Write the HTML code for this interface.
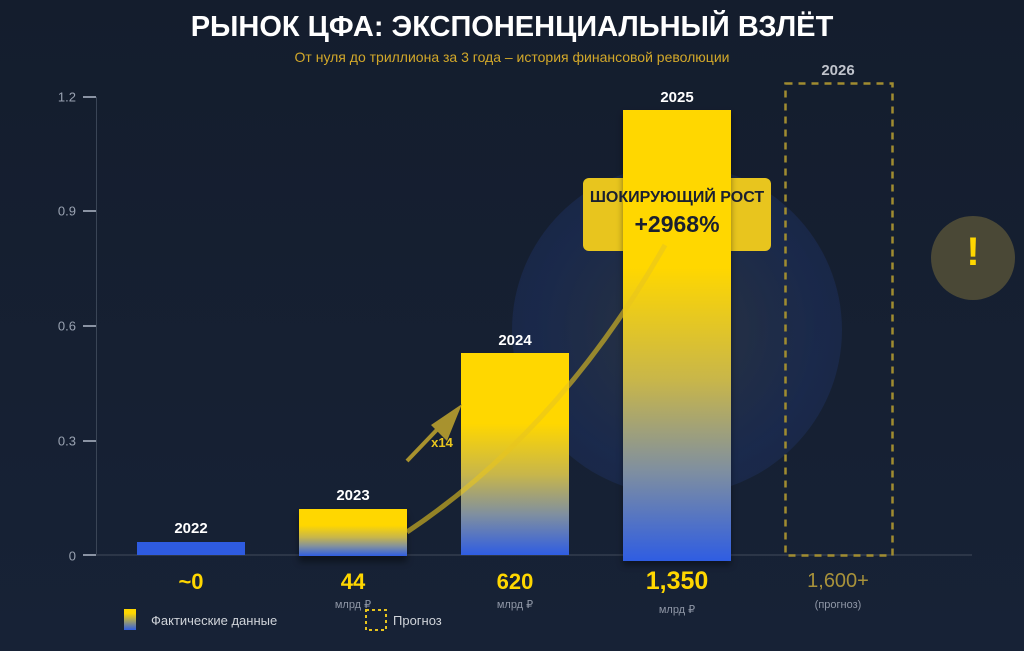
<!DOCTYPE html>
<html><head><meta charset="utf-8"><style>
body{margin:0;width:1024px;height:651px;overflow:hidden;background:linear-gradient(180deg,#141d2d,#172236);font-family:"Liberation Sans","DejaVu Sans",sans-serif;position:relative}
.a{position:absolute}
.t{position:absolute;white-space:nowrap;transform:translateX(-50%)}
.bar{position:absolute;background:linear-gradient(180deg,#ffd700 0%,#ffd700 35%,#c8b64a 60%,#7f8fa0 80%,#2f5de2 100%)}
.yl{position:absolute;right:948px;color:#9aa3b2;font-size:13px;transform:translateY(-50%)}
.tk{position:absolute;left:83px;width:13px;height:2px;background:#8a93a3}
.yr{color:#fff;font-weight:bold;font-size:15px}
.v{color:#ffd700;font-weight:bold;font-size:22px}
.u{color:#8f97a6;font-size:11px}
</style></head><body>
<div class="t" style="left:512px;top:11px;color:#fff;font-weight:bold;font-size:29px">РЫНОК ЦФА: ЭКСПОНЕНЦИАЛЬНЫЙ ВЗЛЁТ</div>
<div class="t" style="left:512px;top:49px;color:#d2a82a;font-size:14px">От нуля до триллиона за 3 года – история финансовой революции</div>
<div class="a" style="left:512px;top:165px;width:330px;height:330px;border-radius:50%;background:radial-gradient(circle,rgba(60,70,80,.5) 0%,rgba(30,50,100,.5) 60%,rgba(30,50,100,.25) 100%)"></div>
<div class="a" style="left:96px;top:97px;width:1px;height:458px;background:#3a4556"></div>
<div class="a" style="left:96px;top:554px;width:876px;height:2px;background:#2c3648"></div>
<div class="tk" style="top:96px"></div><div class="tk" style="top:210px"></div><div class="tk" style="top:325px"></div><div class="tk" style="top:440px"></div><div class="tk" style="top:554px"></div>
<div class="yl" style="top:97px">1.2</div><div class="yl" style="top:211px">0.9</div><div class="yl" style="top:326px">0.6</div><div class="yl" style="top:441px">0.3</div><div class="yl" style="top:556px">0</div>
<div class="a" style="left:137px;top:542px;width:108px;height:13px;background:#2e5be0"></div>
<div class="bar" style="left:299px;top:509px;width:108px;height:47px;box-shadow:0 6px 6px rgba(0,0,0,.4)"></div>
<div class="bar" style="left:461px;top:353px;width:108px;height:202px"></div>
<div class="a" style="left:583px;top:178px;width:188px;height:73px;border-radius:6px;background:#e8c51e"></div>
<div class="bar" style="left:623px;top:110px;width:108px;height:451px;box-shadow:0 4px 6px rgba(0,0,0,.4)"></div>
<svg class="a" style="left:0;top:0" width="1024" height="651">
<path d="M407,532 Q560,430 665,245" stroke="#e8c51e" stroke-opacity="0.6" stroke-width="5" fill="none"/>
<line x1="407" y1="461" x2="452" y2="414" stroke="#a8922e" stroke-width="4"/>
<polygon points="462,404 431,425 447,441" fill="#a8922e"/>
<rect x="785.5" y="83.5" width="107" height="472" fill="none" stroke="#a08c30" stroke-width="2.5" stroke-dasharray="7,6"/>
<circle cx="973" cy="258" r="42" fill="#4a4836"/>
<rect x="366" y="610" width="20" height="20" fill="none" stroke="#e8c51e" stroke-width="2" stroke-dasharray="3,3"/>
</svg>
<div class="t" style="left:973px;top:230px;color:#ffd700;font-weight:bold;font-size:40px">!</div>
<div class="t" style="left:442px;top:435px;color:#e8c51e;font-weight:bold;font-size:13px">x14</div>
<div class="t" style="left:677px;top:189px;color:#1a2030;font-weight:bold;font-size:16px">ШОКИРУЮЩИЙ РОСТ</div>
<div class="t" style="left:677px;top:211px;color:#1a2030;font-weight:bold;font-size:23px">+2968%</div>
<div class="t yr" style="left:191px;top:520px">2022</div>
<div class="t yr" style="left:353px;top:487px">2023</div>
<div class="t yr" style="left:515px;top:332px">2024</div>
<div class="t yr" style="left:677px;top:89px">2025</div>
<div class="t yr" style="left:838px;top:62px;color:#c0c4cc">2026</div>
<div class="t v" style="left:191px;top:569px">~0</div>
<div class="t v" style="left:353px;top:569px">44</div>
<div class="t v" style="left:515px;top:569px">620</div>
<div class="t v" style="left:677px;top:567px;font-size:25px">1,350</div>
<div class="t" style="left:838px;top:570px;color:#a8923a;font-size:20px">1,600+</div>
<div class="t u" style="left:353px;top:598px">млрд ₽</div>
<div class="t u" style="left:515px;top:598px">млрд ₽</div>
<div class="t u" style="left:677px;top:603px">млрд ₽</div>
<div class="t u" style="left:838px;top:599px">(прогноз)</div>
<div class="a" style="left:124px;top:609px;width:12px;height:21px;background:linear-gradient(180deg,#ffd700 20%,#2f5de2)"></div>
<div class="a" style="left:151px;top:613px;color:#d0d4da;font-size:13px">Фактические данные</div>
<div class="a" style="left:393px;top:613px;color:#d0d4da;font-size:13px">Прогноз</div>
</body></html>
